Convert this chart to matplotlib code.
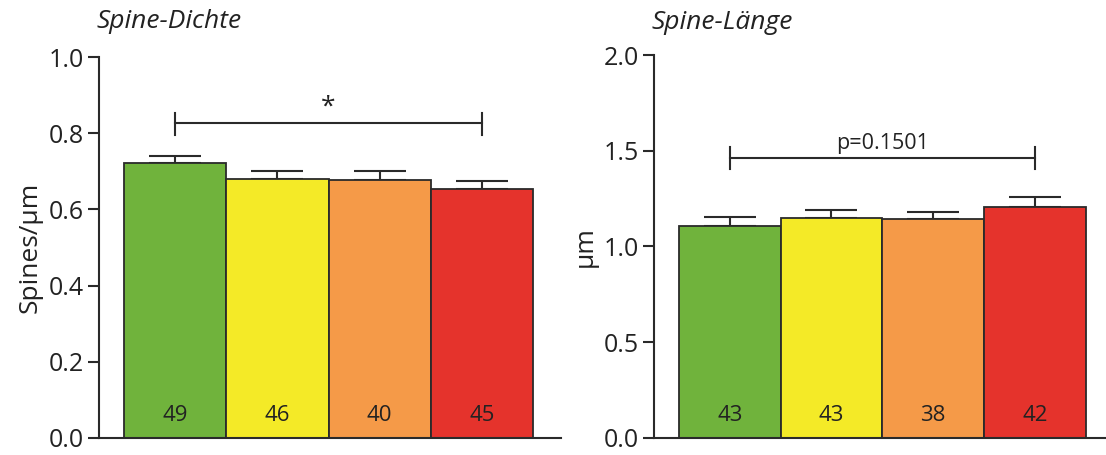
import matplotlib
matplotlib.use("Agg")
import matplotlib.pyplot as plt
import matplotlib.transforms as mtransforms

plt.rcParams['font.family'] = ['Open Sans', 'DejaVu Sans']

groups = ['A', 'B', 'C', 'D']
colors = ['#70b33c', '#f4ea27', '#f59a48', '#e5332c']

dichte = [0.721, 0.680, 0.676, 0.654]
dichte_sem = [0.019, 0.022, 0.024, 0.020]
dichte_n = [49, 46, 40, 45]

laenge = [1.107, 1.147, 1.142, 1.208]
laenge_sem = [0.047, 0.042, 0.040, 0.049]
laenge_n = [43, 43, 38, 42]

fig = plt.figure(figsize=(11.06, 4.55), dpi=100)
ax1 = fig.add_axes([0.0895, 0.0374, 0.4177, 0.8373])
ax2 = fig.add_axes([0.5913, 0.0374, 0.4087, 0.8417])

edge = '#2a2a2a'


def draw(ax, vals, sem, ns, ymax, yticks, ylabel, title, xmax, ty):
    x = range(len(vals))
    ax.bar(x, vals, width=1.0, color=colors, edgecolor=edge, linewidth=1.3, zorder=2)
    ax.errorbar(x, vals, yerr=[[0] * len(vals), sem], fmt='none', ecolor=edge,
                elinewidth=1.5, capsize=18.5, capthick=1.5, zorder=1)
    trans = mtransforms.blended_transform_factory(ax.transData, ax.transAxes)
    for i, n in enumerate(ns):
        ax.text(i, 0.06, str(n), transform=trans, ha='center', va='center',
                fontsize=16, color='#222222')
    ax.set_xlim(-0.746, xmax)
    ax.set_ylim(0, ymax)
    ax.set_yticks(yticks)
    ax.set_yticklabels(['%.1f' % t for t in yticks])
    ax.set_xticks([])
    for s in ['top', 'right']:
        ax.spines[s].set_visible(False)
    for s in ['left', 'bottom']:
        ax.spines[s].set_linewidth(1.5)
        ax.spines[s].set_color(edge)
    ax.tick_params(axis='y', direction='out', length=8, width=1.5, color=edge,
                   labelsize=18, pad=3, labelcolor='#222222')
    ax.set_ylabel(ylabel, fontsize=19, color='#222222', labelpad=4)
    ax.text(-0.005, ty, title, transform=ax.transAxes, fontsize=19,
            style='italic', ha='left', va='center', color='#222222')


draw(ax1, dichte, dichte_sem, dichte_n, 1.0, [0.0, 0.2, 0.4, 0.6, 0.8, 1.0],
     'Spines/µm', 'Spine-Dichte', 3.774, 1.092)
draw(ax2, laenge, laenge_sem, laenge_n, 2.0, [0.0, 0.5, 1.0, 1.5, 2.0],
     'µm', 'Spine-Länge', 3.70, 1.086)

# significance brackets
ax1.plot([0, 3], [0.827, 0.827], color=edge, lw=1.5)
ax1.plot([0, 0], [0.795, 0.853], color=edge, lw=1.5)
ax1.plot([3, 3], [0.795, 0.853], color=edge, lw=1.5)
ax1.text(1.5, 0.868, '*', ha='center', va='center', fontsize=19, color='#222222')

ax2.plot([0, 3], [1.462, 1.462], color=edge, lw=1.5)
ax2.plot([0, 0], [1.405, 1.52], color=edge, lw=1.5)
ax2.plot([3, 3], [1.405, 1.52], color=edge, lw=1.5)
ax2.text(1.5, 1.54, 'p=0.1501', ha='center', va='center', fontsize=15.5, color='#222222')

fig.savefig('out.png', dpi=100)
